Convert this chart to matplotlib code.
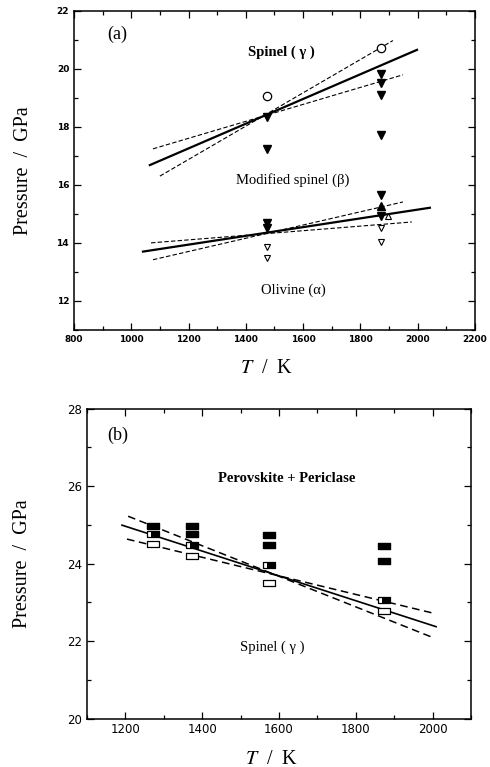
import numpy as np
import matplotlib.pyplot as plt
from matplotlib.ticker import MultipleLocator

plt.rcParams['mathtext.fontset'] = 'stix'

# (a) Mg2SiO4: olivina / spinello modificato / spinello
T_open_c = [1473, 1873]                      # cerchi aperti (gamma)
P_open_c = [19.05, 20.72]
T_gam_f = [1473, 1473, 1873, 1873, 1873, 1873]   # triangoli pieni
P_gam_f = [18.35, 17.24, 19.83, 19.52, 19.10, 17.72]
T_bet_f = [1473, 1473, 1873, 1873]
P_bet_f = [14.69, 14.52, 15.66, 14.93]
T_bet_up = [1873]
P_bet_up = [15.28]
T_open_up = [1898]
P_open_up = [14.93]
T_alf_o = [1473, 1473, 1873, 1873]           # triangoli aperti (alfa)
P_alf_o = [13.86, 13.48, 14.52, 14.03]

# confini di fase (estremi delle rette)
T_gb = [1065, 1998];  P_gb = [16.68, 20.65]
T_gb1 = [1100, 1914]; P_gb1 = [16.30, 20.97]
T_gb2 = [1076, 1949]; P_gb2 = [17.24, 19.79]
T_ba = [1041, 2043];  P_ba = [13.70, 15.21]
T_ba1 = [1076, 1949]; P_ba1 = [13.42, 15.41]
T_ba2 = [1069, 1980]; P_ba2 = [14.00, 14.72]

# (b) spinello -> perovskite + periclasio
T_pv = [1273, 1373, 1373, 1573, 1573, 1873, 1873]
P_pv = [24.97, 24.97, 24.76, 24.74, 24.47, 24.45, 24.06]
T_half = [1273, 1373, 1573, 1873]
P_half = [24.76, 24.47, 23.96, 23.06]
T_sp = [1273, 1373, 1573, 1873]
P_sp = [24.50, 24.19, 23.50, 22.78]

T_b = [1191, 2009];  P_b = [24.99, 22.37]
T_b1 = [1207, 1998]; P_b1 = [25.22, 22.10]
T_b2 = [1204, 2001]; P_b2 = [24.63, 22.72]

serif = 'Liberation Serif'
rect = [(-1, -0.55), (1, -0.55), (1, 0.55), (-1, 0.55), (-1, -0.55)]
rect_dx = [(-0.3, -0.55), (1, -0.55), (1, 0.55), (-0.3, 0.55), (-0.3, -0.55)]


def stile_assi(ax, fs, peso='normal'):
    ax.tick_params(which='both', direction='in', top=True, right=True,
                   labelsize=fs, width=0.9)
    ax.tick_params(which='major', length=5)
    ax.tick_params(which='minor', length=3)
    for lab in ax.get_xticklabels() + ax.get_yticklabels():
        lab.set_fontweight(peso)
    for s in ax.spines.values():
        s.set_linewidth(1.1)


fig = plt.figure(figsize=(4.9, 7.67), dpi=100)

# ---------------- pannello (a)
ax = fig.add_axes([0.151, 0.5698, 0.818, 0.4163])
ax.plot(T_gb, P_gb, c='k', lw=1.6)
ax.plot(T_gb1, P_gb1, c='k', lw=0.8, ls=(0, (4, 2)))
ax.plot(T_gb2, P_gb2, c='k', lw=0.8, ls=(0, (4, 2)))
ax.plot(T_ba, P_ba, c='k', lw=1.6)
ax.plot(T_ba1, P_ba1, c='k', lw=0.8, ls=(0, (4, 2)))
ax.plot(T_ba2, P_ba2, c='k', lw=0.8, ls=(0, (4, 2)))

ax.plot(T_open_c, P_open_c, 'o', mfc='white', mec='k', ms=6, mew=0.9)
ax.plot(T_gam_f, P_gam_f, 'v', c='k', ms=5.5)
ax.plot(T_bet_f, P_bet_f, 'v', c='k', ms=5.5)
ax.plot(T_bet_up, P_bet_up, '^', c='k', ms=5.5)
ax.plot(T_open_up, P_open_up, '^', mfc='white', mec='k', ms=5, mew=0.8)
ax.plot(T_alf_o, P_alf_o, 'v', mfc='white', mec='k', ms=5, mew=0.8)

ax.set_xlim(800, 2200)
ax.set_ylim(11, 22)
ax.xaxis.set_major_locator(MultipleLocator(200))
ax.xaxis.set_minor_locator(MultipleLocator(100))
ax.yaxis.set_major_locator(MultipleLocator(2))
ax.yaxis.set_minor_locator(MultipleLocator(1))
stile_assi(ax, 6.5, 'bold')

ax.text(915, 21.2, '(a)', family=serif, fontsize=13, ha='left', va='center')
ax.text(1526, 20.58, 'Spinel ( γ )', family=serif, fontsize=10.5,
        fontweight='bold', ha='center', va='center')
ax.text(1565, 16.17, 'Modified spinel (β)', family=serif, fontsize=10.5,
        ha='center', va='center')
ax.text(1565, 12.38, 'Olivine (α)', family=serif, fontsize=10.5,
        ha='center', va='center')

ax.set_ylabel('Pressure  /  GPa', family=serif, fontsize=14.5)
ax.yaxis.set_label_coords(-0.102, 0.5)
ax.set_xlabel('$T$  /  K', family=serif, fontsize=14.5)
ax.xaxis.set_label_coords(0.48, -0.09)
ax.xaxis.label.set_va('top')

# ---------------- pannello (b)
bx = fig.add_axes([0.1776, 0.0632, 0.7837, 0.4042])
bx.plot(T_b, P_b, c='k', lw=1.2)
bx.plot(T_b1, P_b1, c='k', lw=1.1, ls=(0, (5, 3)))
bx.plot(T_b2, P_b2, c='k', lw=1.1, ls=(0, (5, 3)))

bx.plot(T_pv, P_pv, ls='none', marker=rect, c='k', ms=9)
bx.plot(T_half, P_half, ls='none', marker=rect, mfc='white', mec='k', ms=9, mew=0.9)
bx.plot(T_half, P_half, ls='none', marker=rect_dx, c='k', ms=9, mew=0)
bx.plot(T_sp, P_sp, ls='none', marker=rect, mfc='white', mec='k', ms=9, mew=0.9)

bx.set_xlim(1100, 2100)
bx.set_ylim(20, 28)
bx.xaxis.set_major_locator(MultipleLocator(200))
bx.xaxis.set_minor_locator(MultipleLocator(100))
bx.yaxis.set_major_locator(MultipleLocator(2))
bx.yaxis.set_minor_locator(MultipleLocator(1))
stile_assi(bx, 8.5)

bx.text(1152, 27.32, '(b)', family=serif, fontsize=13, ha='left', va='center')
bx.text(1621, 26.2, 'Perovskite + Periclase', family=serif, fontsize=10.5,
        fontweight='bold', ha='center', va='center')
bx.text(1582, 21.85, 'Spinel ( γ )', family=serif, fontsize=10.5,
        ha='center', va='center')

bx.set_ylabel('Pressure  /  GPa', family=serif, fontsize=14.5)
bx.yaxis.set_label_coords(-0.143, 0.5)
bx.set_xlabel('$T$  /  K', family=serif, fontsize=14.5)
bx.xaxis.set_label_coords(0.48, -0.1)
bx.xaxis.label.set_va('top')

fig.savefig('out.png', dpi=100)
